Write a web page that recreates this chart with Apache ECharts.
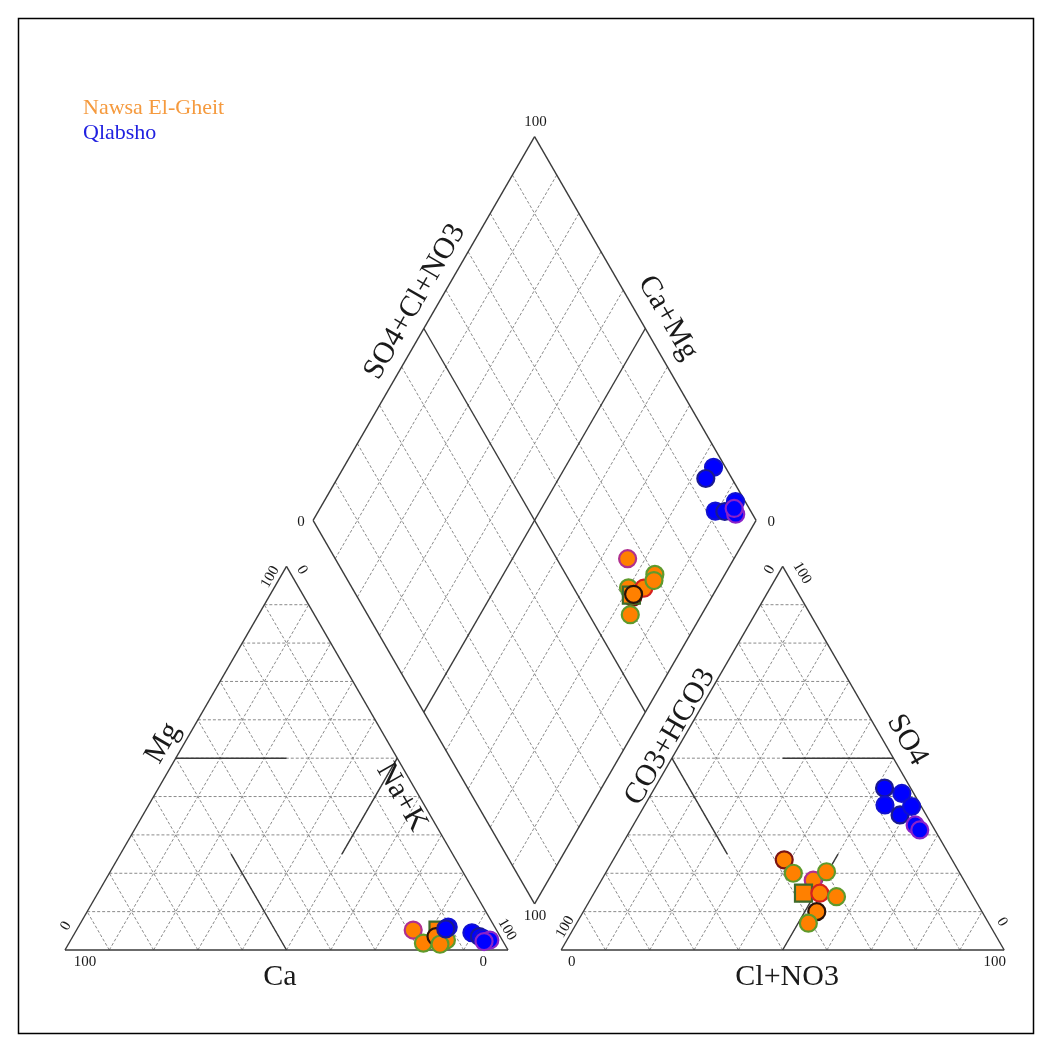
<!DOCTYPE html>
<html>
<head>
<meta charset="utf-8">
<script src="https://cdn.jsdelivr.net/npm/echarts@6/dist/echarts.min.js"></script>
<style>
  html, body { margin: 0; padding: 0; background: #ffffff; }
  #chart { width: 1052px; height: 1052px; }
</style>
</head>
<body>
<div id="chart"></div>
<script>
// Major ion composition (meq %) for each sample
const groupNames = ['Nawsa El-Gheit', 'Qlabsho'];

const nawsaCa   = [18.8, 14.3, 18.2, 13.6, 13.2, 12.5, 12.6, 14.5, 14.6];
const nawsaMg   = [5.2, 3.5, 1.8, 2.2, 5.2, 4.0, 2.6, 3.5, 1.5];
const nawsaNaK  = [76.0, 82.2, 80.0, 84.2, 81.6, 83.5, 84.8, 82.0, 83.9];
const nawsaHCO3 = [34.0, 37.9, 37.6, 29.9, 37.9, 34.2, 30.9, 37.3, 40.7];
const nawsaSO4  = [18.2, 23.5, 20.0, 20.4, 14.8, 14.8, 13.9, 10.0, 7.0];
const nawsaCl   = [47.8, 38.6, 42.4, 49.7, 47.3, 51.0, 55.2, 52.7, 52.3];

const qlabshoCa   = [10.5, 11.3, 5.9, 4.7, 4.1, 2.8, 4.3];
const qlabshoMg   = [6.0, 5.5, 4.5, 3.5, 3.0, 2.6, 2.2];
const qlabshoNaK  = [83.5, 83.2, 89.6, 91.8, 92.9, 94.6, 93.5];
const qlabshoHCO3 = [2.7, 5.9, 8.0, 5.9, 2.2, 3.8, 3.4];
const qlabshoSO4  = [40.8, 42.2, 37.8, 35.2, 37.4, 32.6, 31.3];
const qlabshoCl   = [56.5, 51.9, 54.2, 58.9, 60.4, 63.6, 65.3];

const tickLabels = ['0', '100'];

// marker outline colours and shapes, one per sample
const nawsaEdges = ['#b0308f', '#7a1414', '#5f9a2c', '#5f9a2c', '#3d6b2a', '#d42020', '#5f9a2c', '#2a120a', '#5f9a2c'];
const nawsaShapes = ['circle', 'circle', 'circle', 'circle', 'rect', 'circle', 'circle', 'circle', 'circle'];
const qlabshoEdges = ['#1010d0', '#1a1a90', '#1010d0', '#1a1a90', '#1010d0', '#8a22c8', '#8a22c8'];

// ---- Piper geometry (triangle side = 100 units) ----
const SIDE = 100, GAP = 12, H = Math.sqrt(3) / 2;
const ANION_X0 = SIDE + GAP;
const DIAMOND_BX = SIDE + GAP / 2, DIAMOND_BY = GAP * H;

// barycentric -> plane; l = left corner %, r = right corner %, t = apex %
function triPoint(x0, l, r, t) { return [x0 + r + t / 2, t * H]; }
function cationPoint(ca, mg, na) { return triPoint(0, ca, na, mg); }
function anionPoint(hco3, so4, cl) { return triPoint(ANION_X0, hco3, cl, so4); }
// a = Ca+Mg, b = SO4+Cl+NO3
function diamondAB(a, b) { return [DIAMOND_BX + 0.5 * (b - a), DIAMOND_BY + H * (a + b)]; }
function diamondPoint(na, hco3) { return diamondAB(100 - na, 100 - hco3); }

// ---- frame lines ----
const dashed = [], solid = [];
function seg(list, p, q) { list.push([p[0], p[1], q[0], q[1]]); }

[0, ANION_X0].forEach(function (x0) {
  for (let i = 10; i < 100; i += 10) {
    seg(dashed, triPoint(x0, 100 - i, 0, i), triPoint(x0, 0, 100 - i, i));
    seg(dashed, triPoint(x0, 100 - i, i, 0), triPoint(x0, 0, i, 100 - i));
    seg(dashed, triPoint(x0, i, 100 - i, 0), triPoint(x0, i, 0, 100 - i));
  }
  seg(solid, triPoint(x0, 100, 0, 0), triPoint(x0, 0, 100, 0));
  seg(solid, triPoint(x0, 100, 0, 0), triPoint(x0, 0, 0, 100));
  seg(solid, triPoint(x0, 0, 100, 0), triPoint(x0, 0, 0, 100));
});
// facies boundaries in the cation triangle
seg(solid, triPoint(0, 50, 0, 50), triPoint(0, 25, 25, 50));
seg(solid, triPoint(0, 50, 50, 0), triPoint(0, 50, 25, 25));
seg(solid, triPoint(0, 0, 50, 50), triPoint(0, 25, 50, 25));
// facies boundaries in the anion triangle
seg(solid, triPoint(ANION_X0, 0, 50, 50), triPoint(ANION_X0, 25, 25, 50));
seg(solid, triPoint(ANION_X0, 50, 50, 0), triPoint(ANION_X0, 25, 50, 25));
seg(solid, triPoint(ANION_X0, 50, 0, 50), triPoint(ANION_X0, 50, 25, 25));
// diamond
for (let i = 10; i < 100; i += 10) {
  seg(i === 50 ? solid : dashed, diamondAB(i, 0), diamondAB(i, 100));
  seg(i === 50 ? solid : dashed, diamondAB(0, i), diamondAB(100, i));
}
seg(solid, diamondAB(0, 0), diamondAB(100, 0));
seg(solid, diamondAB(0, 0), diamondAB(0, 100));
seg(solid, diamondAB(100, 0), diamondAB(100, 100));
seg(solid, diamondAB(0, 100), diamondAB(100, 100));

// ---- text around the plot ----
const T0 = tickLabels[0], T100 = tickLabels[1];
const texts = [
  // cation triangle
  { t: T100, u: 4.5, v: -2.7, r: 0, s: 15 },
  { t: T0, u: 94.4, v: -2.7, r: 0, s: 15 },
  { t: T0, u: 0.2, v: 5.4, r: 60, s: 15 },
  { t: T100, u: 46.3, v: 84.2, r: 60, s: 15 },
  { t: T0, u: 53.5, v: 85.8, r: -60, s: 15 },
  { t: T100, u: 99.8, v: 4.6, r: -60, s: 15 },
  { t: 'Ca', u: 48.5, v: -6.1, r: 0, s: 30 },
  { t: 'Mg', u: 22.1, v: 46.7, r: 60, s: 30 },
  { t: 'Na+K', u: 76.0, v: 34.5, r: -60, s: 30 },
  // anion triangle
  { t: T0, u: 114.4, v: -2.7, r: 0, s: 15 },
  { t: T100, u: 209.9, v: -2.7, r: 0, s: 15 },
  { t: T100, u: 112.9, v: 5.2, r: 60, s: 15 },
  { t: T0, u: 159.1, v: 85.8, r: 60, s: 15 },
  { t: T100, u: 166.4, v: 85.1, r: -60, s: 15 },
  { t: T0, u: 211.5, v: 6.3, r: -60, s: 15 },
  { t: 'Cl+NO3', u: 163.0, v: -6.1, r: 0, s: 30 },
  { t: 'CO3+HCO3', u: 136.6, v: 48.1, r: 60, s: 30 },
  { t: 'SO4', u: 190.1, v: 47.4, r: -60, s: 30 },
  // diamond
  { t: T0, u: 53.3, v: 96.6, r: 0, s: 15 },
  { t: T100, u: 106.2, v: 187.0, r: 0, s: 15 },
  { t: T0, u: 159.4, v: 96.6, r: 0, s: 15 },
  { t: T100, u: 106.1, v: 7.6, r: 0, s: 15 },
  { t: 'SO4+Cl+NO3', u: 79.0, v: 146.3, r: 60, s: 30 },
  { t: 'Ca+Mg', u: 136.1, v: 142.7, r: -60, s: 30 }
];

// ---- sample markers ----
function buildPoints(ca, mg, na, hco3, so4, cl, edges, shapes, fill) {
  const pts = [];
  for (let i = 0; i < ca.length; i++) {
    const style = { color: fill, borderColor: edges[i], borderWidth: 2.2, opacity: 1 };
    const sym = shapes ? shapes[i] : 'circle';
    pts.push({ value: cationPoint(ca[i], mg[i], na[i]), itemStyle: style, symbol: sym });
    pts.push({ value: anionPoint(hco3[i], so4[i], cl[i]), itemStyle: style, symbol: sym });
    pts.push({ value: diamondPoint(na[i], hco3[i]), itemStyle: style, symbol: sym });
  }
  return pts;
}
const nawsaPts = buildPoints(nawsaCa, nawsaMg, nawsaNaK, nawsaHCO3, nawsaSO4, nawsaCl, nawsaEdges, nawsaShapes, '#ff8000');
const qlabshoPts = buildPoints(qlabshoCa, qlabshoMg, qlabshoNaK, qlabshoHCO3, qlabshoSO4, qlabshoCl, qlabshoEdges, null, '#0000ff');

const SERIF = '"Liberation Serif", "DejaVu Serif", serif';
const K = 4.43; // px per unit
const chart = echarts.init(document.getElementById('chart'), null, { renderer: 'canvas' });

function lineRenderer(stroke, width, dash) {
  return function (params, api) {
    const a = api.coord([api.value(0), api.value(1)]);
    const b = api.coord([api.value(2), api.value(3)]);
    return {
      type: 'line',
      shape: { x1: a[0], y1: a[1], x2: b[0], y2: b[1] },
      style: { stroke: stroke, lineWidth: width, lineDash: dash, fill: null }
    };
  };
}

chart.setOption({
  animation: false,
  backgroundColor: '#ffffff',
  grid: { left: 65 - 10 * K, top: 950 - 200 * K, width: 230 * K, height: 210 * K },
  xAxis: { type: 'value', min: -10, max: 220, show: false },
  yAxis: { type: 'value', min: -10, max: 200, show: false },
  graphic: [
    { type: 'rect', shape: { x: 18.5, y: 18.5, width: 1015, height: 1015 },
      style: { fill: null, stroke: '#000', lineWidth: 1.5 }, silent: true },
    { type: 'text', x: 83, y: 97, style: { text: groupNames[0], fill: '#f59a3e', font: '22px ' + SERIF } },
    { type: 'text', x: 83, y: 122, style: { text: groupNames[1], fill: '#2020e0', font: '22px ' + SERIF } }
  ],
  series: [
    { type: 'custom', name: 'grid', silent: true, clip: false, z: 1,
      data: dashed, encode: { x: [0, 2], y: [1, 3] },
      renderItem: lineRenderer('#8a8a8a', 1, [3, 2]) },
    { type: 'custom', name: 'outline', silent: true, clip: false, z: 2,
      data: solid, encode: { x: [0, 2], y: [1, 3] },
      renderItem: lineRenderer('#3a3a3a', 1.4, null) },
    { type: 'custom', name: 'labels', silent: true, clip: false, z: 3,
      data: texts.map(function (d) { return [d.u, d.v]; }),
      renderItem: function (params, api) {
        const d = texts[params.dataIndex];
        const p = api.coord([d.u, d.v]);
        return {
          type: 'text', x: p[0], y: p[1], rotation: d.r * Math.PI / 180,
          style: { text: d.t, fill: '#1a1a1a', fontSize: d.s, fontFamily: SERIF,
                   align: 'center', verticalAlign: 'middle' }
        };
      } },
    { type: 'scatter', name: groupNames[0], symbolSize: 17, z: 5, clip: false, data: nawsaPts },
    { type: 'scatter', name: groupNames[1], symbolSize: 17, z: 6, clip: false, data: qlabshoPts }
  ]
});
</script>
</body>
</html>
